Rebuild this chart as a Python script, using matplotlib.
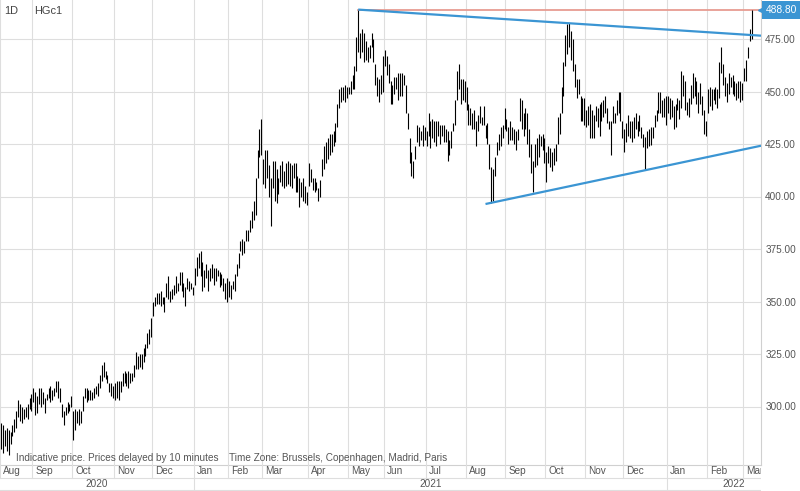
import numpy as np
import matplotlib
matplotlib.use('Agg')
import matplotlib.pyplot as plt

plt.rcParams['font.family'] = ['Liberation Sans', 'DejaVu Sans']

# Dados (cobre HGc1, barras diarias, maxima / minima)
symbol = 'HGc1'
interval = '1D'
last_price = 488.80

months = ['Aug', 'Sep', 'Oct', 'Nov', 'Dec', 'Jan', 'Feb', 'Mar', 'Apr', 'May', 'Jun',
          'Jul', 'Aug', 'Sep', 'Oct', 'Nov', 'Dec', 'Jan', 'Feb', 'Mar']
month_years = [2020] * 5 + [2021] * 12 + [2022] * 3

aug20_hi = [292, 291, 289, 290, 289, 288, 291, 294, 298, 303, 301, 300, 299, 300, 301, 304, 306]
aug20_lo = [280, 278, 281, 279, 277, 282, 286, 288, 290, 295, 293, 292, 294, 295, 294, 299, 298]
sep20_hi = [309, 307, 305, 309, 309, 307, 304, 306, 309, 310, 308, 309, 312, 312, 309, 301, 298, 300, 302, 301, 305]
sep20_lo = [302, 296, 297, 301, 300, 301, 297, 303, 304, 302, 303, 305, 307, 304, 302, 295, 291, 296, 297, 298, 300]
oct20_hi = [298, 299, 298, 299, 298, 305, 309, 309, 308, 308, 307, 309, 310, 311, 315, 320, 321, 317, 315, 311, 311, 310]
oct20_lo = [284, 289, 292, 291, 292, 298, 304, 302, 303, 303, 303, 304, 306, 305, 309, 312, 314, 313, 311, 307, 305, 304]
nov20_hi = [311, 312, 312, 312, 316, 317, 316, 317, 316, 316, 320, 326, 324, 325, 325, 328, 330, 335, 337, 342]
nov20_lo = [303, 304, 303, 307, 310, 311, 310, 309, 311, 312, 314, 318, 318, 319, 318, 321, 324, 328, 330, 333]
dec20_hi = [350, 352, 354, 354, 355, 352, 352, 359, 362, 355, 356, 358, 362, 359, 364, 364, 359, 357, 361, 360, 359, 357]
dec20_lo = [343, 348, 349, 349, 348, 349, 345, 352, 351, 350, 351, 353, 354, 355, 358, 355, 352, 348, 356, 355, 356, 353]
jan21_hi = [366, 371, 373, 374, 369, 365, 368, 365, 366, 368, 366, 366, 365, 364, 363, 361, 359, 361]
jan21_lo = [358, 362, 366, 362, 355, 357, 361, 355, 360, 361, 358, 360, 362, 357, 358, 355, 351, 350]
feb21_hi = [360, 358, 360, 363, 368, 373, 379, 380, 379, 384, 384, 389, 393, 398, 409, 422, 432, 437]
feb21_lo = [352, 351, 356, 355, 362, 366, 374, 372, 373, 379, 379, 383, 385, 389, 391, 409, 419, 420]
mar21_hi = [418, 422, 422, 415, 409, 417, 417, 413, 409, 415, 417, 412, 416, 417, 416, 415, 416, 416, 410, 409, 407, 409, 405, 402]
mar21_lo = [406, 404, 409, 400, 386, 404, 398, 397, 401, 407, 405, 404, 405, 406, 405, 404, 409, 402, 402, 395, 400, 398, 397, 396]
apr21_hi = [416, 413, 409, 409, 407, 404, 408, 418, 424, 426, 428, 430, 430, 431, 435, 444, 451, 452, 452, 453, 452]
apr21_lo = [405, 407, 403, 402, 403, 398, 400, 410, 413, 416, 418, 420, 421, 424, 426, 433, 442, 445, 446, 445, 447]
may21_hi = [452, 455, 458, 462, 476, 489, 478, 480, 478, 474, 471, 472, 478, 475, 463, 457, 456, 458, 467]
may21_lo = [449, 449, 451, 451, 460, 469, 466, 469, 464, 465, 464, 466, 471, 464, 453, 448, 445, 449, 450]
jun21_hi = [470, 467, 463, 455, 453, 457, 457, 459, 459, 459, 458, 453, 440, 428, 421, 417, 424, 434, 433, 431, 434, 433]
jun21_lo = [462, 458, 454, 444, 444, 449, 451, 446, 448, 448, 453, 440, 432, 416, 410, 409, 418, 426, 424, 427, 424, 427]
jul21_hi = [431, 440, 436, 437, 436, 436, 436, 434, 434, 434, 432, 431, 427, 431, 435, 446, 460, 463, 456, 456, 455]
jul21_lo = [424, 429, 423, 428, 426, 424, 429, 425, 429, 426, 426, 417, 420, 423, 431, 434, 446, 451, 444, 446, 445]
aug21_hi = [452, 444, 442, 440, 441, 436, 439, 443, 438, 443, 434, 435, 425, 414, 413, 419, 426, 430, 433, 434, 442]
aug21_lo = [441, 434, 434, 432, 432, 424, 431, 435, 434, 434, 428, 425, 413, 397, 398, 410, 420, 422, 424, 428, 432]
sep21_hi = [437, 433, 436, 433, 432, 431, 432, 447, 446, 440, 442, 440, 432, 425, 417, 425, 428, 430, 429, 430, 428]
sep21_lo = [431, 425, 427, 427, 425, 422, 427, 436, 432, 429, 432, 425, 419, 411, 402, 414, 415, 419, 424, 422, 416]
oct21_hi = [421, 424, 423, 421, 423, 425, 438, 440, 452, 464, 477, 482, 482.5, 479, 475, 463, 456, 456, 448, 447, 447]
oct21_lo = [407, 416, 414, 412, 415, 417, 425, 430, 440, 448, 462, 468, 471, 465, 460, 452, 447, 449, 436, 436, 434]
nov21_hi = [441, 443, 444, 441, 439, 443, 442, 444, 445, 446, 448, 442, 436, 436, 443, 440, 446, 450, 450, 436]
nov21_lo = [433, 434, 428, 428, 428, 436, 433, 429, 436, 438, 440, 435, 432, 420, 435, 435, 439, 440, 436, 428]
dec21_hi = [432, 435, 439, 436, 436, 438, 440, 436, 439, 433, 430, 428.5, 431, 432, 433, 433, 439, 441, 450, 450, 446, 447, 448]
dec21_lo = [421, 426, 429, 428, 426, 428, 432, 429, 431, 428, 423.5, 412.5, 423, 424, 424.5, 428, 433, 436, 440, 440, 438, 438, 434]
jan22_hi = [448, 447, 446, 443, 444, 447, 446, 460, 458, 455, 445, 447, 453, 459, 457, 455, 450, 454, 448, 441, 436]
jan22_lo = [440, 437, 438, 432, 433, 441, 437, 442, 448, 441, 439, 438, 444, 447, 448, 444, 440, 444, 439, 430, 429]
feb22_hi = [451, 452, 451, 451, 452, 451, 464, 471, 463, 457, 454, 459, 457, 458, 455, 454, 455, 455, 454]
feb22_lo = [440, 443, 441, 446, 444, 442, 447, 459, 453, 448, 445, 449, 452, 449, 448, 446, 447, 445, 446]
mar22_hi = [461, 465, 471, 480, 488.8]
mar22_lo = [455, 455, 466, 474, 475]

month_hi = [aug20_hi, sep20_hi, oct20_hi, nov20_hi, dec20_hi, jan21_hi, feb21_hi, mar21_hi,
            apr21_hi, may21_hi, jun21_hi, jul21_hi, aug21_hi, sep21_hi, oct21_hi, nov21_hi,
            dec21_hi, jan22_hi, feb22_hi, mar22_hi]
month_lo = [aug20_lo, sep20_lo, oct20_lo, nov20_lo, dec20_lo, jan21_lo, feb21_lo, mar21_lo,
            apr21_lo, may21_lo, jun21_lo, jul21_lo, aug21_lo, sep21_lo, oct21_lo, nov21_lo,
            dec21_lo, jan22_lo, feb22_lo, mar22_lo]

highs = np.concatenate([np.array(m, float) for m in month_hi])
lows = np.concatenate([np.array(m, float) for m in month_lo])
x = np.arange(len(highs))
month_start = np.concatenate([[0], np.cumsum([len(m) for m in month_hi])[:-1]])

# Layout (pixels)
W, H = 800, 491
plot_right = 761
plot_bottom = 465
bar_step = 1.9
px_per_unit = 2.1
y_ref_px, y_ref_val = 39, 475.0

xlim = (-1 / bar_step, (plot_right - 1) / bar_step)
ylim = (y_ref_val - (plot_bottom - y_ref_px) / px_per_unit, y_ref_val + y_ref_px / px_per_unit)

grid_c = '#dedede'
text_c = '#555555'
blue = '#3b95d3'
red = '#e79c92'
fs = 7.2

fig = plt.figure(figsize=(W / 100, H / 100), dpi=100)
ax = fig.add_axes([0, (H - plot_bottom) / H, plot_right / W, plot_bottom / H])
ax.set_xlim(*xlim)
ax.set_ylim(*ylim)

# grelha
for k in month_start:
    ax.axvline(k - 0.5, color=grid_c, lw=0.8, zorder=0)
yticks = np.arange(300, 476, 25)
for v in yticks:
    ax.axhline(v, color=grid_c, lw=0.8, zorder=0)

ax.yaxis.tick_right()
ax.set_yticks(yticks)
ax.set_yticklabels([f'{v:.2f}' for v in yticks])
ax.tick_params(axis='y', length=0, pad=3, labelsize=fs, labelcolor=text_c)
ax.set_xticks([])
for s in ['top', 'left']:
    ax.spines[s].set_visible(False)
for s in ['right', 'bottom']:
    ax.spines[s].set_color('#d0d0d0')
    ax.spines[s].set_linewidth(0.8)

# barras high-low
ax.vlines(x, lows, highs, color='black', lw=0.8, zorder=3)

# linhas de tendencia
may_sl = slice(month_start[9], month_start[10])
oct_sl = slice(month_start[14], month_start[15])
aug_sl = slice(month_start[12], month_start[13])
dec_sl = slice(month_start[16], month_start[17])
i_may = may_sl.start + int(np.argmax(highs[may_sl]))
i_oct = oct_sl.start + int(np.argmax(highs[oct_sl]))
i_aug = aug_sl.start + int(np.argmin(lows[aug_sl]))
i_dec = dec_sl.start + int(np.argmin(lows[dec_sl]))

x_end = xlim[1]
up_slope = (highs[i_oct] - highs[i_may]) / (i_oct - i_may)
ax.plot([i_may, x_end], [highs[i_may], highs[i_may] + up_slope * (x_end - i_may)],
        color=blue, lw=1.6, zorder=4, solid_capstyle='butt')
lo_slope = (lows[i_dec] - lows[i_aug]) / (i_dec - i_aug)
x0 = i_aug - 3
ax.plot([x0, x_end], [lows[i_aug] + lo_slope * (x0 - i_aug), lows[i_aug] + lo_slope * (x_end - i_aug)],
        color=blue, lw=1.6, zorder=4, solid_capstyle='butt')
ax.plot([i_may, x_end], [highs[i_may], highs[i_may]], color=red, lw=1.3, zorder=2)

# etiqueta do ultimo preco
ax.plot([x_end], [last_price], marker='<', ms=5, color=blue, mec=blue, clip_on=False, zorder=6)
fig.text(781.5 / W, 1 - 10 / H, f'{last_price:.2f}', ha='center', va='center', color='white',
         fontsize=7.4, bbox=dict(boxstyle='square,pad=0.4', fc=blue, ec='none'))

# textos
fig.text(4 / W, 1 - 11 / H, interval, fontsize=7.9, color='#444444', va='center')
fig.text(34 / W, 1 - 11 / H, symbol, fontsize=7.9, color='#444444', va='center')
fig.text(16 / W, 1 - 458 / H, 'Indicative price. Prices delayed by 10 minutes',
         fontsize=fs, color=text_c, va='center')
fig.text(229 / W, 1 - 458 / H, 'Time Zone: Brussels, Copenhagen, Madrid, Paris',
         fontsize=fs, color=text_c, va='center')

# eixo de meses / anos
ax2 = fig.add_axes([0, 0, plot_right / W, (H - plot_bottom) / H])
ax2.set_xlim(*xlim)
ax2.set_ylim(0, H - plot_bottom)
ax2.axis('off')
row_mid = 13.5
ax2.axhline(row_mid, color=grid_c, lw=0.8)
ax2.axhline(1, color=grid_c, lw=0.8)
for i, k in enumerate(month_start):
    new_year = i > 0 and month_years[i] != month_years[i - 1]
    ax2.plot([k - 0.5, k - 0.5], [0 if new_year else row_mid, H - plot_bottom], color=grid_c, lw=0.8)
    ax2.text(max(k - 0.5, xlim[0]) + 3 / bar_step, 19.5, months[i], fontsize=fs, color=text_c,
             va='center', ha='left', clip_on=True)

yr_list = sorted(set(month_years))
for yr in yr_list:
    idx = [i for i, m in enumerate(month_years) if m == yr]
    a = max(month_start[idx[0]] - 0.5, xlim[0])
    if idx[-1] + 1 < len(month_start):
        b = month_start[idx[-1] + 1] - 0.5
    else:
        b = (W - 1) / bar_step
    ax2.text((a + b) / 2, 7, str(yr), fontsize=fs, color=text_c, ha='center', va='center')

fig.savefig('out.png', dpi=100)
